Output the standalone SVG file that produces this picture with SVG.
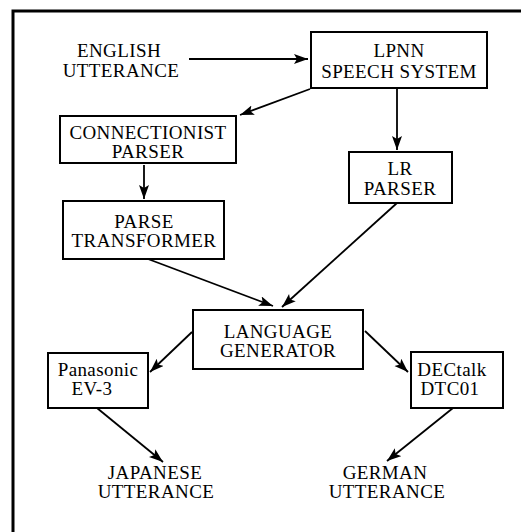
<svg xmlns="http://www.w3.org/2000/svg" width="521" height="532" viewBox="0 0 521 532">
<defs>
<marker id="ah" markerUnits="userSpaceOnUse" markerWidth="16" markerHeight="12" refX="14" refY="5" orient="auto">
<path d="M0,0 L14,5 L0,10 L3,5 Z" fill="#000"/>
</marker>
<style>
.t{font-family:"Liberation Serif","Times New Roman",serif;font-size:19px;letter-spacing:0.4px;fill:#000;text-anchor:middle}
.b{fill:#fff;stroke:#000;stroke-width:2}
.c{stroke:#000;stroke-width:1.8;fill:none;marker-end:url(#ah)}
</style>
</defs>
<rect width="521" height="532" fill="#fff"/>
<g id="frame"><path d="M13,532 L13,11 L521,11" fill="none" stroke="#000" stroke-width="3"/></g>
<g id="connectors">
<line class="c" x1="189" y1="59" x2="308" y2="59"/>
<line class="c" x1="310" y1="89" x2="240" y2="115"/>
<line class="c" x1="397" y1="89" x2="397" y2="150"/>
<line class="c" x1="144" y1="165" x2="144" y2="199"/>
<line class="c" x1="148" y1="259" x2="273" y2="306"/>
<line class="c" x1="397" y1="203" x2="282" y2="307"/>
<line class="c" x1="192" y1="332" x2="150" y2="372"/>
<line class="c" x1="365" y1="331" x2="408" y2="372"/>
<line class="c" x1="97" y1="408" x2="163" y2="462"/>
<line class="c" x1="453" y1="408" x2="387" y2="461"/>
</g>
<g id="english"><text class="t" x="119" y="57">ENGLISH</text><text class="t" x="121" y="77">UTTERANCE</text></g>
<g id="lpnn"><rect class="b" x="311" y="32" width="176" height="56"/><text class="t" x="399" y="57">LPNN</text><text class="t" x="399" y="78">SPEECH SYSTEM</text></g>
<g id="connectionist"><rect class="b" x="60" y="116" width="176" height="47"/><text class="t" x="148" y="139">CONNECTIONIST</text><text class="t" x="148" y="158">PARSER</text></g>
<g id="lr"><rect class="b" x="349" y="152" width="103" height="51"/><text class="t" x="400" y="175">LR</text><text class="t" x="400" y="195">PARSER</text></g>
<g id="transformer"><rect class="b" x="63" y="201" width="161" height="58"/><text class="t" x="144" y="228">PARSE</text><text class="t" x="144" y="247">TRANSFORMER</text></g>
<g id="generator"><rect class="b" x="193" y="310" width="170" height="59"/><text class="t" x="278" y="338">LANGUAGE</text><text class="t" x="278" y="357">GENERATOR</text></g>
<g id="panasonic"><rect class="b" x="48" y="353" width="100" height="55"/><text class="t" x="98" y="376">Panasonic</text><text class="t" x="92" y="395">EV-3</text></g>
<g id="dectalk"><rect class="b" x="411" y="352" width="92" height="56"/><text class="t" x="452" y="376">DECtalk</text><text class="t" x="450" y="395">DTC01</text></g>
<g id="japanese"><text class="t" x="155" y="479">JAPANESE</text><text class="t" x="156" y="498">UTTERANCE</text></g>
<g id="german"><text class="t" x="385" y="479">GERMAN</text><text class="t" x="387" y="498">UTTERANCE</text></g>
</svg>
